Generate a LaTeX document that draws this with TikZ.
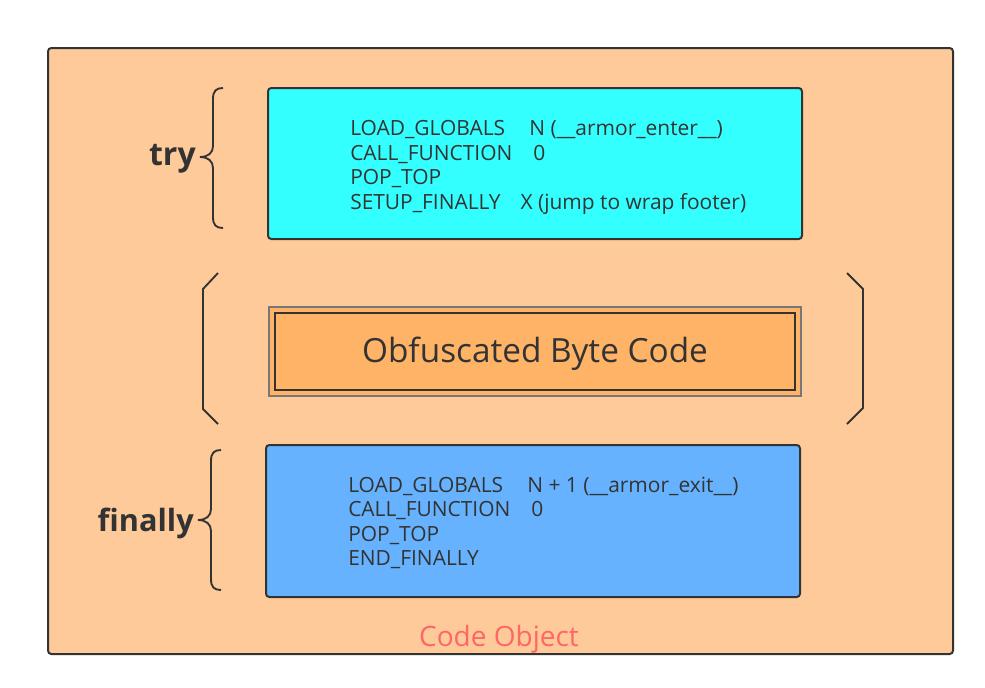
\documentclass[tikz,border=0pt]{standalone}
\usepackage{fontspec}
\setmainfont{Open Sans}
\definecolor{bgorange}{HTML}{FFCA99}
\definecolor{midorange}{HTML}{FFB366}
\definecolor{trycyan}{HTML}{33FFFF}
\definecolor{finblue}{HTML}{66B2FF}
\definecolor{ink}{HTML}{333333}
\definecolor{grayline}{HTML}{777777}
\definecolor{redtext}{HTML}{FF6666}
\tikzset{
  box/.style={draw=ink, line width=1.5pt, rounded corners=2.5pt},
  codetext/.style={anchor=west, inner sep=0pt, align=left, text=ink,
    font=\fontsize{15.7pt}{18.3pt}\selectfont},
  brace/.style={draw=ink, line width=1.4pt},
  label/.style={inner sep=0pt, text=ink, font=\fontsize{23pt}{26pt}\selectfont\bfseries},
}
\begin{document}
\begin{tikzpicture}[x=0.75pt,y=-0.75pt]
\useasboundingbox (0,0) rectangle (985,687);
\fill[white] (0,0) rectangle (985,687);
% outer code object
\draw[box, fill=bgorange] (48,48) rectangle (953,654);
\node[inner sep=0pt, text=redtext, font=\fontsize{21pt}{24pt}\selectfont] (codeobj) at (499,639) {Code Object};
% try box
\draw[box, fill=trycyan] (268,88) rectangle (802,239);
\node[codetext] (trytext) at (350,167.5) {LOAD\_GLOBALS\hspace{1.15em}N (\_\_armor\_enter\_\_)\\
CALL\_FUNCTION\hspace{1.0em}0\\
POP\_TOP\\
SETUP\_FINALLY\hspace{0.95em}X (jump to wrap footer)};
% middle
\draw[draw=grayline, line width=1.2pt, fill=midorange] (269,307) rectangle (801,396);
\draw[draw=ink, line width=1.4pt] (275,313) rectangle (795,390);
\node[inner sep=0pt, text=ink, font=\fontsize{25pt}{30pt}\selectfont] (obf) at (535,354) {Obfuscated Byte Code};
% square brackets
\draw[brace] (218,273) -- (203,289) -- (203,409) -- (218,424);
\draw[brace] (847,273) -- (863,289) -- (863,408) -- (847,424);
% finally box
\draw[box, fill=finblue] (266,445) rectangle (800,597);
\node[codetext] (fintext) at (348,523) {LOAD\_GLOBALS\hspace{1.15em}N + 1 (\_\_armor\_exit\_\_)\\
CALL\_FUNCTION\hspace{1.0em}0\\
POP\_TOP\\
END\_FINALLY};
% curly braces
\draw[brace] (223,88) .. controls (216,88) and (213,91) .. (213,99)
  -- (213,146) .. controls (213,153) and (208,157) .. (200,157)
  .. controls (208,157) and (213,161) .. (213,168)
  -- (213,217) .. controls (213,225) and (216,228) .. (223,228);
\draw[brace] (221,450) .. controls (214,450) and (211,453) .. (211,461)
  -- (211,509) .. controls (211,516) and (206,520) .. (198,520)
  .. controls (206,520) and (211,524) .. (211,531)
  -- (211,579) .. controls (211,587) and (214,590) .. (221,590);
\node[label, anchor=east, font=\fontsize{24pt}{27pt}\selectfont\bfseries] (try) at (196,159) {try};
\node[label, anchor=east] (fin) at (194,523) {finally};
\end{tikzpicture}
\end{document}
